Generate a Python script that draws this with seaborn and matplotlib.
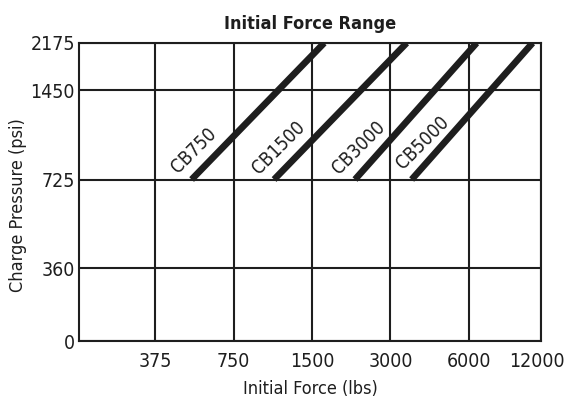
import numpy as np
import pandas as pd
import matplotlib
matplotlib.use("Agg")
import matplotlib.pyplot as plt
import matplotlib.transforms as mtransforms
import seaborn as sns

# --- Data ---
models = ["CB750", "CB1500", "CB3000", "CB5000"]
force_low = [518, 1073, 2193, 3618]      # lbs at 725 psi
force_high = [1670, 3461, 6422, 10525]   # lbs at 2175 psi
pressure_low = 725
pressure_high = 2175

label_force = [529, 1121, 2272, 3981]
label_pressure = [964, 981, 981, 1024]

x_ticks = [375, 750, 1500, 3000, 6000, 11330]
x_ticklabels = ["375", "750", "1500", "3000", "6000", "12000"]
y_ticks = [0, 360, 725, 1450, 2175]
y_tick_frac = [0, 0.245, 0.542, 0.842, 1.0]  # where each y tick sits on the axis

records = []
for m, f0, f1 in zip(models, force_low, force_high):
    records.append({"model": m, "force": f0, "pressure": pressure_low})
    records.append({"model": m, "force": f1, "pressure": pressure_high})
df = pd.DataFrame(records)

# --- Style ---
sns.set_theme(style="white")
plt.rcParams["font.family"] = ["DejaVu Sans"]
plt.rcParams["font.stretch"] = "condensed"
ink = "#1e1e1e"


def fwd(y):
    return np.interp(y, y_ticks, y_tick_frac)


def inv(f):
    return np.interp(f, y_tick_frac, y_ticks)


fig = plt.figure(figsize=(5.73, 4.13), dpi=100)
ax = fig.add_axes([0.138, 0.174, 0.806, 0.722])

ax.set_xscale("log", base=2)
ax.set_yscale("function", functions=(fwd, inv))
ax.set_xlim(191.7, 11330)
ax.set_ylim(0, 2175)

sns.lineplot(data=df, x="force", y="pressure", units="model", estimator=None,
             color=ink, lw=4.8, solid_capstyle="butt", ax=ax, legend=False, zorder=3)

for m, fx, py in zip(models, label_force, label_pressure):
    ax.text(fx, py, m, rotation=45, ha="center", va="center", fontsize=13.5,
            color=ink, rotation_mode="anchor", zorder=4)

ax.set_xticks(x_ticks)
ax.set_xticklabels(x_ticklabels)
ax.xaxis.set_minor_locator(matplotlib.ticker.NullLocator())
ax.set_yticks(y_ticks)
ax.set_yticklabels([str(v) for v in y_ticks])
ax.yaxis.set_minor_locator(matplotlib.ticker.NullLocator())
ax.tick_params(axis="both", length=0, labelsize=14, colors=ink)
ax.tick_params(axis="x", pad=8)
ax.tick_params(axis="y", pad=3)

# the last label sits a little inside the right edge
last = ax.get_xticklabels()[-1]
last.set_transform(last.get_transform() +
                   mtransforms.ScaledTranslation(-4 / 100, 0, fig.dpi_scale_trans))

ax.grid(True, color=ink, lw=1.5)
for s in ax.spines.values():
    s.set_visible(True)
    s.set_color(ink)
    s.set_linewidth(1.5)

ax.set_xlabel("Initial Force (lbs)", fontsize=13, color=ink, labelpad=6)
ax.set_ylabel("Charge Pressure (psi)", fontsize=13, color=ink)
ax.yaxis.set_label_coords(-0.113, 0.456)
ax.set_title("Initial Force Range", fontsize=13, fontweight="bold", color=ink, pad=10)

fig.savefig("out.png", dpi=100)
